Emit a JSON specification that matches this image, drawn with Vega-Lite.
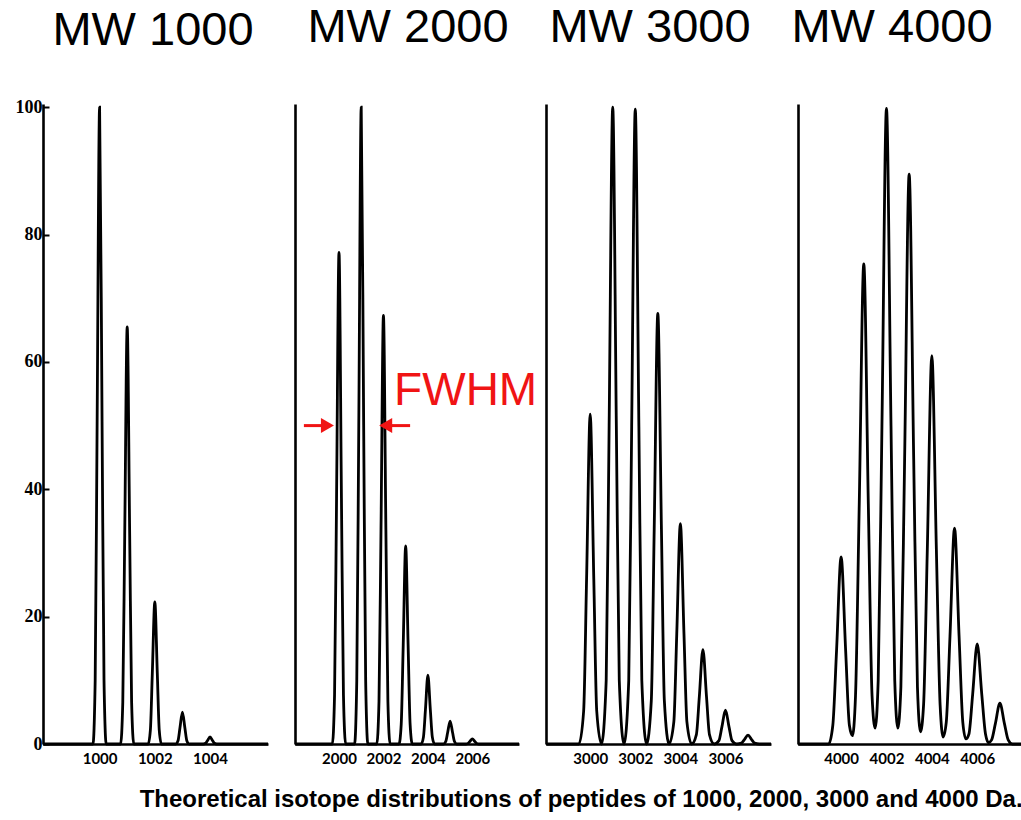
{
  "$schema": "https://vega.github.io/schema/vega-lite/v6.json",
  "background": "#ffffff",
  "padding": {"left": 15, "top": 3, "right": 0, "bottom": 0},
  "bounds": "flush",
  "spacing": 27,
  "title": {
    "text": "Theoretical isotope distributions of peptides of 1000, 2000, 3000 and 4000 Da.",
    "orient": "bottom",
    "anchor": "end",
    "font": "Liberation Sans",
    "fontWeight": "bold",
    "fontSize": 24,
    "baseline": "alphabetic",
    "offset": 41,
    "dx": -4,
    "color": "#000000"
  },
  "datasets": {
    "p1": [
      {"mz": 997.95, "i": 0},
      {"mz": 999.76, "i": 0}, {"mz": 999.84, "i": 10}, {"mz": 999.91, "i": 50}, {"mz": 1000, "i": 100}, {"mz": 1000.09, "i": 50}, {"mz": 1000.16, "i": 10}, {"mz": 1000.24, "i": 0},
      {"mz": 1000.76, "i": 0}, {"mz": 1000.84, "i": 6.55}, {"mz": 1000.91, "i": 32.75}, {"mz": 1001, "i": 65.5}, {"mz": 1001.09, "i": 32.75}, {"mz": 1001.16, "i": 6.55}, {"mz": 1001.24, "i": 0},
      {"mz": 1001.76, "i": 0}, {"mz": 1001.84, "i": 2.23}, {"mz": 1001.91, "i": 11.15}, {"mz": 1002, "i": 22.3}, {"mz": 1002.09, "i": 11.15}, {"mz": 1002.16, "i": 2.23}, {"mz": 1002.24, "i": 0},
      {"mz": 1002.76, "i": 0}, {"mz": 1002.84, "i": 0.5}, {"mz": 1002.91, "i": 2.5}, {"mz": 1003, "i": 5.0}, {"mz": 1003.09, "i": 2.5}, {"mz": 1003.16, "i": 0.5}, {"mz": 1003.24, "i": 0},
      {"mz": 1003.76, "i": 0}, {"mz": 1003.84, "i": 0.11}, {"mz": 1003.91, "i": 0.55}, {"mz": 1004, "i": 1.1}, {"mz": 1004.09, "i": 0.55}, {"mz": 1004.16, "i": 0.11}, {"mz": 1004.24, "i": 0},
      {"mz": 1006.1, "i": 0}
    ],
    "p2": [
      {"mz": 1998.02, "i": 0},
      {"mz": 1999.7, "i": 0}, {"mz": 1999.8, "i": 7.72}, {"mz": 1999.89, "i": 38.6}, {"mz": 2000, "i": 77.2}, {"mz": 2000.11, "i": 38.6}, {"mz": 2000.2, "i": 7.72}, {"mz": 2000.3, "i": 0},
      {"mz": 2000.7, "i": 0}, {"mz": 2000.8, "i": 10}, {"mz": 2000.89, "i": 50}, {"mz": 2001, "i": 100}, {"mz": 2001.11, "i": 50}, {"mz": 2001.2, "i": 10}, {"mz": 2001.3, "i": 0},
      {"mz": 2001.7, "i": 0}, {"mz": 2001.8, "i": 6.73}, {"mz": 2001.89, "i": 33.65}, {"mz": 2002, "i": 67.3}, {"mz": 2002.11, "i": 33.65}, {"mz": 2002.2, "i": 6.73}, {"mz": 2002.3, "i": 0},
      {"mz": 2002.7, "i": 0}, {"mz": 2002.8, "i": 3.11}, {"mz": 2002.89, "i": 15.55}, {"mz": 2003, "i": 31.1}, {"mz": 2003.11, "i": 15.55}, {"mz": 2003.2, "i": 3.11}, {"mz": 2003.3, "i": 0},
      {"mz": 2003.7, "i": 0}, {"mz": 2003.8, "i": 1.08}, {"mz": 2003.89, "i": 5.4}, {"mz": 2004, "i": 10.8}, {"mz": 2004.11, "i": 5.4}, {"mz": 2004.2, "i": 1.08}, {"mz": 2004.3, "i": 0},
      {"mz": 2004.7, "i": 0}, {"mz": 2004.8, "i": 0.36}, {"mz": 2004.89, "i": 1.8}, {"mz": 2005, "i": 3.6}, {"mz": 2005.11, "i": 1.8}, {"mz": 2005.2, "i": 0.36}, {"mz": 2005.3, "i": 0},
      {"mz": 2005.7, "i": 0}, {"mz": 2005.8, "i": 0.08}, {"mz": 2005.89, "i": 0.4}, {"mz": 2006, "i": 0.8}, {"mz": 2006.11, "i": 0.4}, {"mz": 2006.2, "i": 0.08}, {"mz": 2006.3, "i": 0},
      {"mz": 2008.1, "i": 0}
    ],
    "p3": [
      {"mz": 2998.04, "i": 0}, {"mz": 2999.5, "i": 0},
      {"mz": 2999.71, "i": 5.18}, {"mz": 2999.84, "i": 25.9}, {"mz": 3000, "i": 51.8}, {"mz": 3000.16, "i": 25.9}, {"mz": 3000.29, "i": 5.18}, {"mz": 3000.5, "i": 0},
      {"mz": 3000.71, "i": 10}, {"mz": 3000.84, "i": 50}, {"mz": 3001, "i": 100}, {"mz": 3001.16, "i": 50}, {"mz": 3001.29, "i": 10}, {"mz": 3001.5, "i": 0},
      {"mz": 3001.71, "i": 9.97}, {"mz": 3001.84, "i": 49.85}, {"mz": 3002, "i": 99.7}, {"mz": 3002.16, "i": 49.85}, {"mz": 3002.29, "i": 9.97}, {"mz": 3002.5, "i": 0},
      {"mz": 3002.71, "i": 6.76}, {"mz": 3002.84, "i": 33.8}, {"mz": 3003, "i": 67.6}, {"mz": 3003.16, "i": 33.8}, {"mz": 3003.29, "i": 6.76}, {"mz": 3003.5, "i": 0},
      {"mz": 3003.71, "i": 3.46}, {"mz": 3003.84, "i": 17.3}, {"mz": 3004, "i": 34.6}, {"mz": 3004.16, "i": 17.3}, {"mz": 3004.29, "i": 3.46}, {"mz": 3004.5, "i": 0},
      {"mz": 3004.71, "i": 1.48}, {"mz": 3004.84, "i": 7.4}, {"mz": 3005, "i": 14.8}, {"mz": 3005.16, "i": 7.4}, {"mz": 3005.29, "i": 1.48}, {"mz": 3005.5, "i": 0},
      {"mz": 3005.71, "i": 0.53}, {"mz": 3005.84, "i": 2.65}, {"mz": 3006, "i": 5.3}, {"mz": 3006.16, "i": 2.65}, {"mz": 3006.29, "i": 0.53}, {"mz": 3006.5, "i": 0},
      {"mz": 3006.71, "i": 0.14}, {"mz": 3006.84, "i": 0.7}, {"mz": 3007, "i": 1.4}, {"mz": 3007.16, "i": 0.7}, {"mz": 3007.29, "i": 0.14}, {"mz": 3007.5, "i": 0},
      {"mz": 3008.02, "i": 0}
    ],
    "p4": [
      {"mz": 3998.1, "i": 0}, {"mz": 3999.45, "i": 0},
      {"mz": 3999.635, "i": 2.94}, {"mz": 3999.8, "i": 14.7}, {"mz": 4000, "i": 29.4}, {"mz": 4000.2, "i": 14.7}, {"mz": 4000.365, "i": 2.94}, {"mz": 4000.5, "i": 1.3},
      {"mz": 4000.635, "i": 7.54}, {"mz": 4000.8, "i": 37.7}, {"mz": 4001, "i": 75.4}, {"mz": 4001.2, "i": 37.7}, {"mz": 4001.365, "i": 7.54}, {"mz": 4001.5, "i": 2.5},
      {"mz": 4001.635, "i": 9.98}, {"mz": 4001.8, "i": 49.9}, {"mz": 4002, "i": 99.8}, {"mz": 4002.2, "i": 49.9}, {"mz": 4002.365, "i": 9.98}, {"mz": 4002.5, "i": 2.5},
      {"mz": 4002.635, "i": 8.95}, {"mz": 4002.8, "i": 44.75}, {"mz": 4003, "i": 89.5}, {"mz": 4003.2, "i": 44.75}, {"mz": 4003.365, "i": 8.95}, {"mz": 4003.5, "i": 1.9},
      {"mz": 4003.635, "i": 6.1}, {"mz": 4003.8, "i": 30.5}, {"mz": 4004, "i": 61}, {"mz": 4004.2, "i": 30.5}, {"mz": 4004.365, "i": 6.1}, {"mz": 4004.5, "i": 1.1},
      {"mz": 4004.635, "i": 3.39}, {"mz": 4004.8, "i": 16.95}, {"mz": 4005, "i": 33.9}, {"mz": 4005.2, "i": 16.95}, {"mz": 4005.365, "i": 3.39}, {"mz": 4005.5, "i": 0.8},
      {"mz": 4005.635, "i": 1.57}, {"mz": 4005.8, "i": 7.85}, {"mz": 4006, "i": 15.7}, {"mz": 4006.2, "i": 7.85}, {"mz": 4006.365, "i": 1.57}, {"mz": 4006.5, "i": 0.2},
      {"mz": 4006.635, "i": 0.64}, {"mz": 4006.8, "i": 3.2}, {"mz": 4007, "i": 6.4}, {"mz": 4007.2, "i": 3.2}, {"mz": 4007.365, "i": 0.64}, {"mz": 4007.55, "i": 0},
      {"mz": 4007.93, "i": 0}
    ],
    "notes": [
      {"mz": 2002.48, "i": 53.2, "label": "FWHM"}
    ],
    "arrows": [
      {"mz": 1998.42, "mz2": 1999.48, "i": 50, "head": "triangle-right"},
      {"mz": 2003.2, "mz2": 2002.1, "i": 50, "head": "triangle-left"}
    ]
  },
  "hconcat": [
    {
      "width": 225,
      "height": 640,
      "title": {"text": "MW 1000", "anchor": "middle", "dx": -2.5, "offset": 43},
      "data": {"name": "p1"},
      "mark": {"type": "line", "interpolate": "monotone", "color": "#000000", "strokeWidth": 2.8},
      "encoding": {
        "x": {
          "field": "mz", "type": "quantitative",
          "scale": {"domain": [997.95, 1006.1], "nice": false, "zero": false},
          "axis": {"values": [1000, 1002, 1004], "format": "d"}
        },
        "y": {
          "field": "i", "type": "quantitative",
          "scale": {"domain": [0, 100.5], "nice": false},
          "axis": {
            "values": [0, 20, 40, 60, 80, 100], "format": "d",
            "ticks": true, "tickSize": -6, "tickWidth": 2, "labelPadding": 7,
            "labelFont": "Liberation Serif", "labelFontWeight": "bold", "labelFontSize": 18
          }
        }
      }
    },
    {
      "width": 224,
      "height": 640,
      "title": {"text": "MW 2000", "anchor": "middle", "dx": 1, "offset": 50},
      "encoding": {
        "x": {
          "field": "mz", "type": "quantitative",
          "scale": {"domain": [1998.02, 2008.1], "nice": false, "zero": false},
          "axis": {"values": [2000, 2002, 2004, 2006], "format": "d"}
        },
        "y": {
          "field": "i", "type": "quantitative",
          "scale": {"domain": [0, 100.5], "nice": false},
          "axis": {"labels": false, "ticks": false}
        }
      },
      "layer": [
        {
          "data": {"name": "p2"},
          "mark": {"type": "line", "interpolate": "monotone", "color": "#000000", "strokeWidth": 2.8}
        },
        {
          "data": {"name": "notes"},
          "mark": {"type": "text", "align": "left", "baseline": "alphabetic", "font": "Liberation Sans", "fontSize": 46, "color": "#f01414"},
          "encoding": {"text": {"field": "label"}}
        },
        {
          "data": {"name": "arrows"},
          "mark": {"type": "rule", "color": "#f01414", "strokeWidth": 3},
          "encoding": {"x2": {"field": "mz2"}}
        },
        {
          "data": {"name": "arrows"},
          "mark": {"type": "point", "filled": true, "opacity": 1, "size": 225, "color": "#f01414"},
          "encoding": {
            "x": {"field": "mz2", "type": "quantitative"},
            "shape": {"field": "head", "type": "nominal", "scale": null}
          }
        }
      ]
    },
    {
      "width": 225,
      "height": 640,
      "title": {"text": "MW 3000", "anchor": "middle", "dx": -8.5, "offset": 50},
      "data": {"name": "p3"},
      "mark": {"type": "line", "interpolate": "monotone", "color": "#000000", "strokeWidth": 2.8},
      "encoding": {
        "x": {
          "field": "mz", "type": "quantitative",
          "scale": {"domain": [2998.04, 3008.02], "nice": false, "zero": false},
          "axis": {"values": [3000, 3002, 3004, 3006], "format": "d"}
        },
        "y": {
          "field": "i", "type": "quantitative",
          "scale": {"domain": [0, 100.5], "nice": false},
          "axis": {"labels": false, "ticks": false}
        }
      }
    },
    {
      "width": 223,
      "height": 640,
      "title": {"text": "MW 4000", "anchor": "middle", "dx": -17.5, "offset": 51},
      "data": {"name": "p4"},
      "mark": {"type": "line", "interpolate": "monotone", "color": "#000000", "strokeWidth": 2.8},
      "encoding": {
        "x": {
          "field": "mz", "type": "quantitative",
          "scale": {"domain": [3998.1, 4007.93], "nice": false, "zero": false},
          "axis": {"values": [4000, 4002, 4004, 4006], "format": "d"}
        },
        "y": {
          "field": "i", "type": "quantitative",
          "scale": {"domain": [0, 100.5], "nice": false},
          "axis": {"labels": false, "ticks": false}
        }
      }
    }
  ],
  "config": {
    "view": {"stroke": null},
    "axis": {
      "title": null,
      "grid": false,
      "domainColor": "#000000",
      "domainWidth": 2.6,
      "tickColor": "#000000",
      "labelColor": "#000000",
      "labelFlush": false,
      "labelOverlap": false
    },
    "axisY": {"minExtent": 0},
    "axisX": {
      "ticks": false,
      "labelFont": "Lato",
      "labelFontWeight": "bold",
      "labelFontSize": 15,
      "labelPadding": 7
    },
    "title": {
      "font": "Liberation Sans",
      "fontSize": 47,
      "fontWeight": "normal",
      "color": "#000000",
      "baseline": "alphabetic"
    }
  }
}
